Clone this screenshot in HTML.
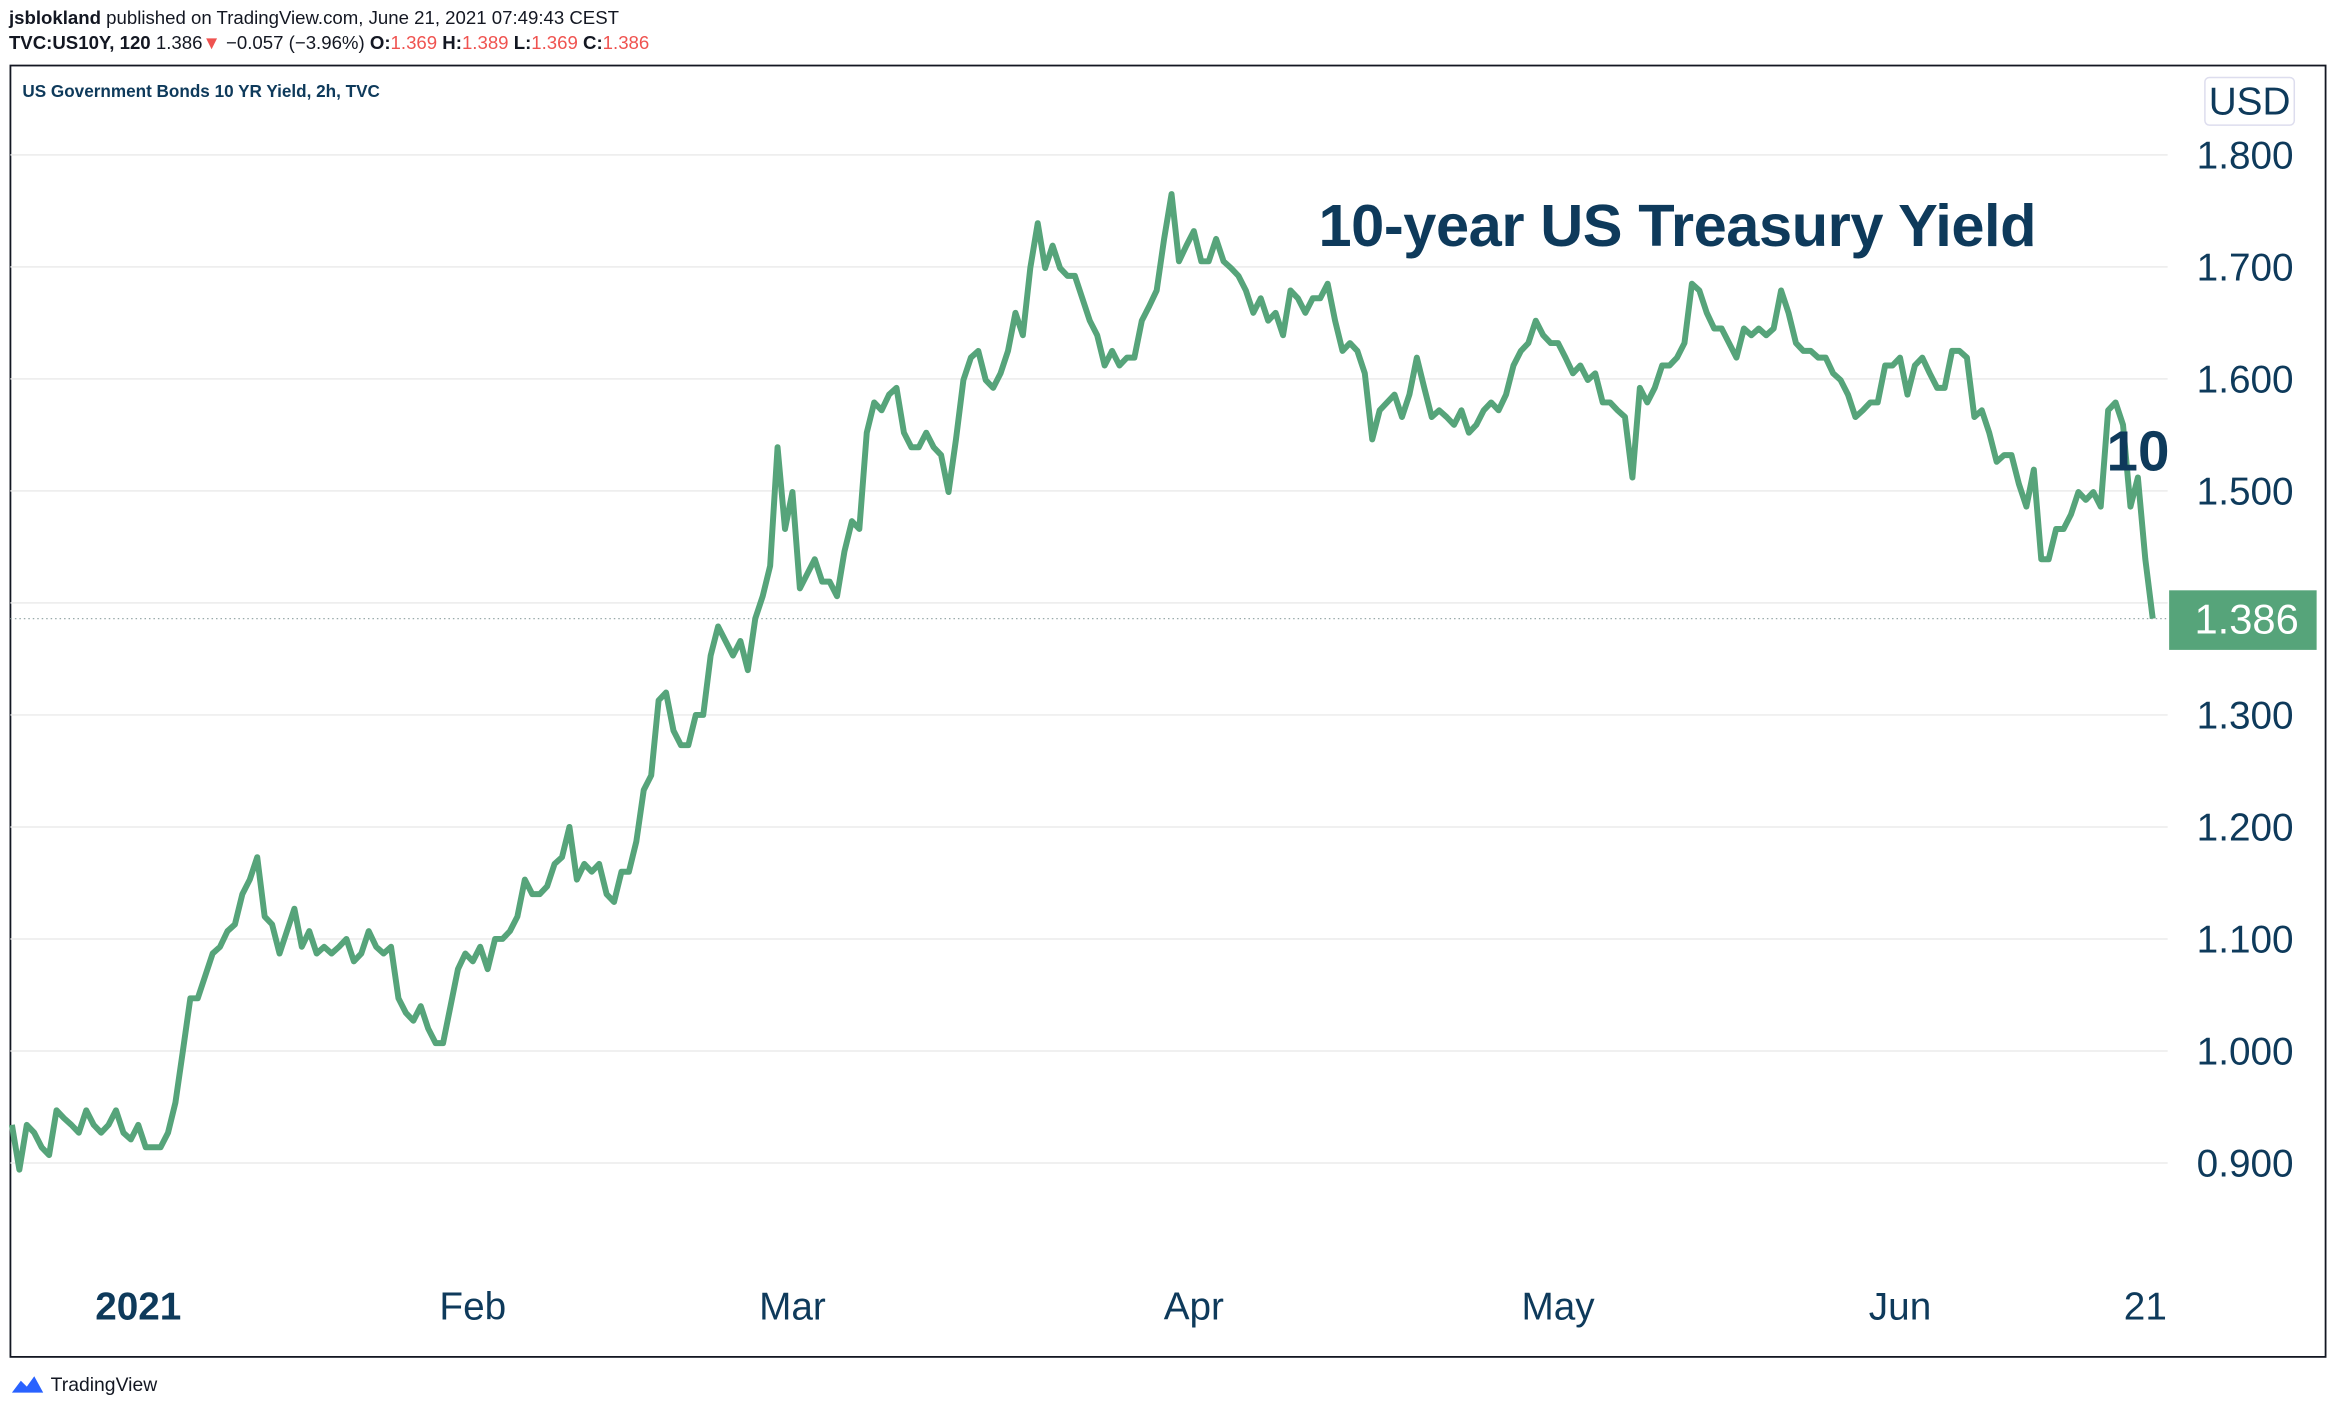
<!DOCTYPE html>
<html><head><meta charset="utf-8"><style>
html,body{margin:0;padding:0;background:#fff;}
svg{display:block;font-family:"Liberation Sans",sans-serif;}
</style></head><body>
<svg width="2336" height="1412" viewBox="0 0 1568 948" preserveAspectRatio="none">
<g>
<text x="6" y="16" font-size="12.5" fill="#131722"><tspan font-weight="bold">jsblokland</tspan> published on TradingView.com, June 21, 2021 07:49:43 CEST</text>
<text x="6" y="33" font-size="12.5" fill="#131722"><tspan font-weight="bold">TVC:US10Y, 120</tspan> 1.386<tspan fill="#ef5350">▼</tspan> −0.057 (−3.96%) <tspan font-weight="bold">O:</tspan><tspan fill="#ef5350">1.369</tspan> <tspan font-weight="bold">H:</tspan><tspan fill="#ef5350">1.389</tspan> <tspan font-weight="bold">L:</tspan><tspan fill="#ef5350">1.369</tspan> <tspan font-weight="bold">C:</tspan><tspan fill="#ef5350">1.386</tspan></text>
</g>
<rect x="7" y="44" width="1554" height="867" fill="none" stroke="#131722" stroke-width="1.2"/>
<text x="15" y="65" font-size="11.5" font-weight="bold" fill="#0e3a5b">US Government Bonds 10 YR Yield, 2h, TVC</text>
<g id="grid"></g>
<g id="ylabels"></g>
<g id="xlabels"></g>
<line x1="7" x2="1455" y1="415" y2="415" stroke="#9aa" stroke-width="0.8" stroke-dasharray="1 2" id="lastline"/>
<path id="series" fill="none" stroke="#56a47a" stroke-width="4" stroke-linejoin="round"/>
<text x="885" y="165" font-size="40" font-weight="bold" fill="#0e3a5b" textLength="482">10-year US Treasury Yield</text>
<text x="1414" y="316" font-size="38" font-weight="bold" fill="#0e3a5b">10</text>
<rect x="1480" y="52" width="60" height="32" rx="3" fill="#fff" stroke="#dde"/>
<text x="1510" y="77" font-size="26" fill="#0e3a5b" text-anchor="middle">USD</text>
<rect x="1456" y="396" width="99" height="40" fill="#56a47a" id="lastbox"/>
<text x="1508" y="426" font-size="28" fill="#fff" text-anchor="middle" id="lasttext">1.386</text>
<g>
<path d="M8 935 l6 -8 l4 4 l5 -7 l6 11 z" fill="#2962ff"/>
<text x="34" y="934" font-size="13" fill="#131722">TradingView</text>
</g>
</svg>
<script>
const yTicks=[0.9,1.0,1.1,1.2,1.3,1.4,1.5,1.6,1.7,1.8];
const yTickLabels=["0.900","1.000","1.100","1.200","1.300","","1.500","1.600","1.700","1.800"];
const xLabels=["2021","Feb","Mar","Apr","May","Jun","21"];
const xLabelIdx=[17,62,105,159,208,254,287];
const values=[.934,.894,.934,.927,.914,.907,.947,.940,.934,.927,.947,.934,.927,.934,.947,.927,.921,.934,.914,.914,.914,.927,.954,1.000,1.047,1.047,1.067,1.087,1.093,1.107,1.113,1.140,1.153,1.173,1.120,1.113,1.087,1.107,1.127,1.093,1.107,1.087,1.093,1.087,1.093,1.100,1.080,1.087,1.107,1.093,1.087,1.093,1.047,1.034,1.027,1.040,1.020,1.007,1.007,1.040,1.073,1.087,1.080,1.093,1.073,1.100,1.100,1.107,1.120,1.153,1.140,1.140,1.147,1.167,1.173,1.200,1.153,1.167,1.160,1.167,1.140,1.133,1.160,1.160,1.187,1.233,1.246,1.313,1.320,1.286,1.273,1.273,1.300,1.300,1.353,1.379,1.366,1.353,1.366,1.340,1.386,1.406,1.433,1.539,1.466,1.499,1.413,1.426,1.439,1.419,1.419,1.406,1.446,1.473,1.466,1.552,1.579,1.572,1.586,1.592,1.552,1.539,1.539,1.552,1.539,1.532,1.499,1.546,1.599,1.619,1.625,1.599,1.592,1.605,1.625,1.659,1.639,1.699,1.739,1.699,1.719,1.699,1.692,1.692,1.672,1.652,1.639,1.612,1.625,1.612,1.619,1.619,1.652,1.665,1.679,1.725,1.765,1.705,1.719,1.732,1.705,1.705,1.725,1.705,1.699,1.692,1.679,1.659,1.672,1.652,1.659,1.639,1.679,1.672,1.659,1.672,1.672,1.685,1.652,1.625,1.632,1.625,1.605,1.546,1.572,1.579,1.586,1.566,1.586,1.619,1.592,1.566,1.572,1.566,1.559,1.572,1.552,1.559,1.572,1.579,1.572,1.586,1.612,1.625,1.632,1.652,1.639,1.632,1.632,1.619,1.605,1.612,1.599,1.605,1.579,1.579,1.572,1.566,1.512,1.592,1.579,1.592,1.612,1.612,1.619,1.632,1.685,1.679,1.659,1.645,1.645,1.632,1.619,1.645,1.639,1.645,1.639,1.645,1.679,1.659,1.632,1.625,1.625,1.619,1.619,1.605,1.599,1.586,1.566,1.572,1.579,1.579,1.612,1.612,1.619,1.586,1.612,1.619,1.605,1.592,1.592,1.625,1.625,1.619,1.566,1.572,1.552,1.526,1.532,1.532,1.506,1.486,1.519,1.439,1.439,1.466,1.466,1.479,1.499,1.492,1.499,1.486,1.572,1.579,1.559,1.486,1.512,1.439,1.386];
const NS="http://www.w3.org/2000/svg";
const X0=8,X1=1445,Y0=1.8,PY0=104,PPU=752;
function xs(i){return X0+(X1-X0)*i/(values.length-1);}
function ys(v){return PY0+(Y0-v)*PPU;}
const grid=document.getElementById('grid'),yl=document.getElementById('ylabels'),xl=document.getElementById('xlabels');
yTicks.forEach((t,k)=>{
 const l=document.createElementNS(NS,'line');
 l.setAttribute('x1',7);l.setAttribute('x2',1455);l.setAttribute('y1',ys(t));l.setAttribute('y2',ys(t));
 l.setAttribute('stroke','#ebebeb');l.setAttribute('stroke-width','1');
 
 
 grid.appendChild(l);
 const tx=document.createElementNS(NS,'text');
 tx.setAttribute('x',1507);tx.setAttribute('y',ys(t)+9);tx.setAttribute('font-size','26');
 tx.setAttribute('fill','#0e3a5b');tx.setAttribute('text-anchor','middle');
 tx.textContent=yTickLabels[k];
 
 
 yl.appendChild(tx);
});
xLabels.forEach((s,k)=>{
 const tx=document.createElementNS(NS,'text');
 tx.setAttribute('x',xs(xLabelIdx[k]));tx.setAttribute('y',886);tx.setAttribute('font-size','26');
 tx.setAttribute('fill','#0e3a5b');tx.setAttribute('text-anchor','middle');
 if(k===0)tx.setAttribute('font-weight','bold');
 tx.textContent=s;
 
 
 xl.appendChild(tx);
});
let d='';values.forEach((v,i)=>{d+=(i?'L':'M')+xs(i).toFixed(2)+' '+ys(v).toFixed(2);});
document.getElementById('series').setAttribute('d',d);
const last=values[values.length-1];
const ly=ys(last);
const ll=document.getElementById('lastline');ll.setAttribute('y1',ly);ll.setAttribute('y2',ly);
document.getElementById('lastbox').setAttribute('y',ly-19);
const lt=document.getElementById('lasttext');lt.setAttribute('y',ly+10);lt.textContent=last.toFixed(3);
</script>
</body></html>
